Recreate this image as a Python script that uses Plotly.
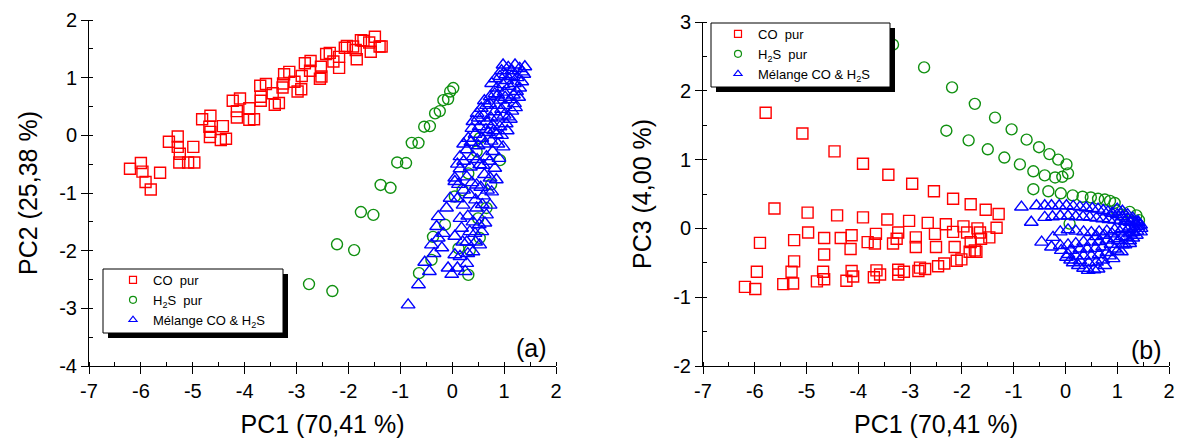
import plotly.graph_objects as go

# ---------------- Panel (a): PC1 vs PC2 ----------------
a_co_pc1 = [-6.21, -6.00, -5.97, -5.91, -5.81, -5.63, -5.46, -5.29, -5.29, -5.25, -5.26, -5.09, -4.97, -4.99,
            -4.82, -4.66, -4.68, -4.66, -4.67, -4.46, -4.36, -4.42, -4.23, -4.09, -4.15, -4.15, -3.91, -3.91,
            -3.82, -3.70, -3.59, -3.69, -3.69, -3.46, -3.42, -3.34, -3.24, -3.14, -3.26, -3.27, -3.04, -2.90,
            -2.91, -2.98, -2.84, -2.73, -2.74, -2.53, -2.55, -2.52, -2.43, -2.36, -2.29, -2.18, -2.18, -2.03,
            -2.07, -1.91, -1.86, -1.84, -1.76, -1.71, -1.60, -1.57, -1.49, -1.36, -1.40]
a_co_pc2 = [-0.58, -0.48, -0.63, -0.81, -0.94, -0.65, -0.11, -0.02, -0.20, -0.32, -0.47, -0.47, -0.47, -0.20,
            0.28, 0.34, 0.15, 0.06, -0.03, -0.08, -0.06, 0.16, 0.60, 0.64, 0.42, 0.31, 0.47, 0.27,
            0.28, 0.86, 0.89, 0.67, 0.60, 0.73, 0.53, 0.56, 1.06, 1.10, 0.90, 0.83, 0.93, 1.03,
            0.80, 0.76, 1.25, 1.29, 1.12, 1.19, 0.98, 1.02, 1.41, 1.43, 1.28, 1.36, 1.17, 1.55,
            1.52, 1.54, 1.48, 1.32, 1.65, 1.64, 1.61, 1.45, 1.71, 1.54, 1.54]

a_h2s_pc1 = [-2.76, -2.31, -2.22, -1.89, -1.76, -1.52, -1.38, -1.19, -1.06, -0.89, -0.78, -0.65, -0.54, -0.43,
             -0.33, -0.24, -0.17, -0.08, -0.04, 0.02,
             -0.64, -0.40, -0.37, -0.14, 0.05, 0.31, 0.47, 0.53, 0.31, 0.12, 0.34, 0.53, 0.50, 0.66, 0.92,
             0.75, 0.20]
a_h2s_pc2 = [-2.58, -2.70, -1.89, -1.99, -1.33, -1.38, -0.86, -0.91, -0.47, -0.48, -0.13, -0.13, 0.15, 0.16,
             0.38, 0.42, 0.61, 0.63, 0.76, 0.82,
             -2.39, -2.16, -1.76, -1.55, -1.06, -0.66, -0.28, -0.05, -2.42, -1.96, -1.99, -1.78, -1.44, -1.26,
             -0.43, -0.85, -0.95]

a_mix_pc1 = [0.98, 1.08, 1.21, 1.30, 1.40, 1.15, 1.35, 0.95,
             0.92, 1.03, 1.14, 1.25, 1.34, 1.38, 1.05, 1.20, 0.83,
             0.76, 0.86, 0.98, 1.10, 1.24, 1.30, 0.88, 1.00, 1.18, 1.28,
             0.73, 0.82, 0.92, 1.02, 1.12, 1.20, 0.62, 0.72, 0.85, 1.02, 1.22,
             0.56, 0.66, 0.82, 0.95, 1.08, 1.15, 0.48, 0.60, 0.75, 0.88, 1.00, 1.12,
             0.40, 0.50, 0.66, 0.78, 0.92, 1.04, 0.38, 0.52, 0.65, 0.80, 1.06,
             0.31, 0.44, 0.57, 0.70, 0.85, 0.98, 0.95, 0.22, 0.36, 0.50, 0.62, 0.75, 0.88,
             0.15, 0.28, 0.40, 0.53, 0.66, 0.78, 0.82, 0.90, 0.10, 0.22, 0.35, 0.48, 0.60, 0.72,
             0.05, 0.28, 0.47, 0.62, 0.73, 0.85, 0.15, 0.05, 0.12, 0.22, 0.38, 0.55, 0.68,
             -0.04, 0.21, 0.34, 0.47, 0.73, 0.76, 0.60, 0.10, 0.45, 0.58,
             -0.11, -0.27, 0.15, 0.30, 0.66, 0.63, 0.40, 0.52,
             -0.30, -0.17, 0.18, 0.34, 0.44, 0.57, 0.05,
             -0.27, -0.40, 0.05, 0.40, 0.53, 0.20, 0.28, 0.45, -0.20,
             -0.53, -0.44, -0.08, -0.01, 0.28, 0.25, 0.15, 0.30, -0.35, 0.10,
             -0.65, -0.85]
a_mix_pc2 = [1.22, 1.18, 1.22, 1.16, 1.19, 1.12, 1.10, 1.12,
             1.02, 1.05, 1.02, 1.00, 0.93, 1.06, 0.95, 0.90, 0.98,
             0.90, 0.82, 0.88, 0.85, 0.76, 0.82, 0.70, 0.75, 0.70, 0.66,
             0.67, 0.72, 0.61, 0.66, 0.62, 0.55, 0.60, 0.55, 0.52, 0.52, 0.48,
             0.47, 0.52, 0.41, 0.45, 0.32, 0.42, 0.38, 0.35, 0.30, 0.32, 0.35, 0.28,
             0.24, 0.30, 0.24, 0.18, 0.15, 0.20, 0.12, 0.15, 0.10, 0.08, 0.08,
             -0.05, 0.02, -0.05, 0.05, 0.01, -0.20, 0.00, -0.15, -0.12, -0.18, -0.15, -0.10, -0.15,
             -0.37, -0.25, -0.37, -0.51, -0.37, -0.28, -0.57, -0.40, -0.50, -0.45, -0.55, -0.42, -0.52, -0.45,
             -0.74, -0.72, -0.86, -0.68, -0.74, -0.77, -0.58, -0.80, -0.85, -0.95, -0.82, -0.90, -0.95,
             -1.09, -1.21, -1.03, -1.26, -1.21, -0.98, -1.05, -1.10, -1.12, -1.20,
             -1.26, -1.41, -1.44, -1.40, -1.38, -1.52, -1.50, -1.55,
             -1.58, -1.70, -1.61, -1.67, -1.70, -1.67, -1.75,
             -1.78, -1.90, -2.07, -2.02, -1.90, -1.85, -1.85, -1.85, -1.95,
             -2.20, -2.36, -2.30, -2.41, -2.22, -2.36, -2.10, -2.05, -2.05, -2.30,
             -2.59, -2.94]

# ---------------- Panel (b): PC1 vs PC3 ----------------
b_co_pc1 = [-5.79, -5.08, -4.46, -3.91, -3.42, -2.96, -2.54, -2.17, -1.83, -1.54, -1.29,
            -5.62, -4.98, -4.41, -3.91, -3.44, -3.02, -2.66, -2.31, -1.97, -1.70, -1.33,
            -5.90, -4.97, -5.24, -4.66, -4.34, -4.13, -4.15, -3.82, -3.66, -3.68, -3.33, -3.26, -3.23,
            -2.89, -2.89, -2.52, -2.50, -2.17, -2.14, -1.90, -1.83, -1.85, -1.65, -1.63, -1.47, -1.72, -4.66,
            -6.19, -5.99, -5.96, -5.45, -5.26, -5.24, -5.29, -4.80, -4.66, -4.68, -4.23, -4.10, -4.13,
            -3.70, -3.58, -3.65, -3.23, -3.12, -3.23, -2.84, -2.71, -2.81, -2.46, -2.34, -2.10, -2.01, -1.75]
b_co_pc3 = [1.68, 1.38, 1.12, 0.94, 0.78, 0.65, 0.54, 0.43, 0.35, 0.27, 0.21,
            0.29, 0.23, 0.19, 0.16, 0.13, 0.11, 0.08, 0.06, 0.03, 0.00, 0.01,
            -0.21, -0.06, -0.17, -0.14, -0.14, -0.10, -0.30, -0.20, -0.08, -0.22, -0.22, -0.15, -0.06,
            -0.13, -0.27, -0.08, -0.27, -0.05, -0.27, -0.06, -0.20, -0.34, -0.06, -0.15, -0.13, -0.34, -0.38,
            -0.85, -0.88, -0.63, -0.81, -0.80, -0.48, -0.63, -0.77, -0.74, -0.63, -0.76, -0.70, -0.62,
            -0.71, -0.67, -0.61, -0.67, -0.63, -0.60, -0.62, -0.59, -0.57, -0.55, -0.51, -0.47, -0.45, -0.32]

b_h2s_pc1 = [-3.33, -2.73, -2.19, -1.75, -1.36, -1.04, -0.75, -0.51, -0.31, -0.14, 0.02, 0.05,
             -2.30, -1.87, -1.50, -1.18, -0.88, -0.62, -0.40, -0.20, -0.06,
             -0.62, -0.33, -0.09, 0.14, 0.33, 0.49, 0.63, 0.76, 0.86, 0.95,
             0.99, 1.10, 1.24, 1.37, 1.42, 0.08]
b_h2s_pc3 = [2.67, 2.34, 2.05, 1.81, 1.61, 1.44, 1.29, 1.18, 1.08, 1.00, 0.93, 0.80,
             1.42, 1.28, 1.15, 1.03, 0.93, 0.83, 0.77, 0.74, 0.75,
             0.57, 0.54, 0.51, 0.48, 0.46, 0.45, 0.43, 0.42, 0.40, 0.37,
             0.26, 0.20, 0.24, 0.19, 0.12, 0.07]

b_mix_pc1 = [-0.85, -0.56, -0.40, -0.27, -0.12, 0.02, 0.15, 0.28, 0.40, 0.52, 0.63, 0.73, 0.82,
             -0.66, -0.40, -0.25, -0.10, 0.05, 0.20, 0.34, 0.47, 0.60, 0.72, 0.84, 0.95, 1.05, 1.15, 1.25,
             1.35, 1.45,
             0.90, 1.00, 1.10, 1.20, 1.30, 1.40, 1.00, 1.10, 1.20, 1.30, 1.40, 1.46, 1.45,
             -0.46, -0.24, -0.10, 0.05, 0.20, 0.35, 0.50, 0.65, 0.80, 0.95, 1.10, 1.25, 1.40,
             0.60, 0.75, 0.90, 1.05, 1.20, 1.32,
             -0.27, -0.10, 0.05, 0.20, 0.35, 0.50, 0.65, 0.80, 0.95, 1.10, 1.25, 1.38,
             0.10, 0.28, 0.42, 0.58, 0.72, 0.88, 1.02, 1.17, 1.30,
             -0.08, 0.05, 0.20, 0.35, 0.50, 0.65, 0.80, 0.95, 1.10, 1.24, 1.37,
             0.10, 0.28, 0.45, 0.60, 0.72, 0.85, 1.00, 1.15, 1.30,
             0.02, 0.15, 0.25, 0.35, 0.44, 0.55, 0.63, 0.76, 0.92, 1.08, 1.24]
b_mix_pc3 = [0.31, 0.33, 0.33, 0.33, 0.33, 0.33, 0.32, 0.31, 0.30, 0.29, 0.28, 0.26, 0.24,
             0.09, 0.16, 0.17, 0.18, 0.18, 0.17, 0.17, 0.16, 0.15, 0.14, 0.13, 0.12, 0.11, 0.10, 0.09,
             0.08, 0.05,
             0.22, 0.20, 0.17, 0.14, 0.11, 0.08, 0.28, 0.25, 0.20, 0.15, 0.10, 0.00, -0.05,
             -0.20, -0.13, -0.05, -0.02, -0.04, -0.05, -0.06, -0.05, -0.04, -0.02, 0.00, 0.02, 0.03,
             -0.12, -0.10, -0.08, -0.05, -0.02, 0.00,
             -0.27, -0.25, -0.24, -0.22, -0.20, -0.20, -0.19, -0.17, -0.15, -0.12, -0.08, -0.04,
             -0.32, -0.30, -0.30, -0.29, -0.27, -0.23, -0.18, -0.13, -0.06,
             -0.32, -0.38, -0.40, -0.40, -0.40, -0.38, -0.35, -0.30, -0.24, -0.18, -0.10,
             -0.46, -0.47, -0.50, -0.49, -0.46, -0.40, -0.33, -0.24, -0.14,
             -0.42, -0.50, -0.54, -0.58, -0.61, -0.60, -0.59, -0.54, -0.44, -0.34, -0.22]

series_names = ["CO  pur", "H<sub>2</sub>S  pur", "Mélange CO &amp; H<sub>2</sub>S"]
series_colors = ["#FF0000", "#109010", "#0000FF"]
series_symbols = ["square-open", "circle-open", "triangle-up-open"]
series_sizes = [11, 11, 12]

x_tickvals = [-7, -6, -5, -4, -3, -2, -1, 0, 1, 2]
x_ticktext = ["-7", "-6", "-5", "-4", "-3", "-2", "-1", "0", "1", "2"]
ya_tickvals = [-4, -3, -2, -1, 0, 1, 2]
ya_ticktext = ["-4", "-3", "-2", "-1", "0", "1", "2"]
yb_tickvals = [-2, -1, 0, 1, 2, 3]
yb_ticktext = ["-2", "-1", "0", "1", "2", "3"]

W, H = 1183, 440
FONT = "Arial, 'Liberation Sans', sans-serif"

fig = go.Figure()

panel_a = [(a_co_pc1, a_co_pc2), (a_h2s_pc1, a_h2s_pc2), (a_mix_pc1, a_mix_pc2)]
panel_b = [(b_co_pc1, b_co_pc3), (b_h2s_pc1, b_h2s_pc3), (b_mix_pc1, b_mix_pc3)]

for panel, xa, ya in ((panel_a, "x", "y"), (panel_b, "x2", "y2")):
    for (xs, ys), name, col, sym, sz in zip(panel, series_names, series_colors, series_symbols, series_sizes):
        fig.add_trace(go.Scatter(x=xs, y=ys, mode="markers", name=name, xaxis=xa, yaxis=ya,
                                 showlegend=False,
                                 marker=dict(symbol=sym, size=sz, color=col,
                                             line=dict(color=col, width=1.4))))

# legend entries (small symbols as in the original legends)
for leg, xa, ya in (("legend", "x", "y"), ("legend2", "x2", "y2")):
    for name, col, sym in zip(series_names, series_colors, series_symbols):
        fig.add_trace(go.Scatter(x=[None], y=[None], mode="markers", name=name, xaxis=xa, yaxis=ya,
                                 legend=leg, showlegend=True,
                                 marker=dict(symbol=sym, size=7, color=col, line=dict(color=col, width=1.2))))

def px(x):
    return x / W

def py(y):
    return 1 - y / H

axis_common = dict(
    showline=True, linecolor="black", linewidth=1, mirror=False,
    showgrid=False, zeroline=False,
    ticks="outside", ticklen=7, tickwidth=1, tickcolor="black",
    tickfont=dict(family=FONT, size=20, color="black"),
    minor=dict(ticks="inside", ticklen=4, tickwidth=1, tickcolor="black", dtick=0.5),
    automargin=False, tickmode="array",
)

xa_dom = [px(89), px(556)]
xb_dom = [px(703), px(1169)]
ya_dom = [py(366), py(20)]
yb_dom = [py(366), py(22)]

title_font = dict(family=FONT, size=25, color="black")

fig.update_layout(
    width=W, height=H,
    margin=dict(l=0, r=0, t=0, b=0),
    paper_bgcolor="white", plot_bgcolor="white",
    font=dict(family=FONT, color="black"),
    xaxis=dict(axis_common, domain=xa_dom, range=[-7, 2], tickvals=x_tickvals, ticktext=x_ticktext,
               anchor="y", title=dict(text="PC1 (70,41 %)", font=title_font, standoff=14)),
    yaxis=dict(axis_common, domain=ya_dom, range=[-4, 2], tickvals=ya_tickvals, ticktext=ya_ticktext,
               anchor="x", title=dict(text="PC2 (25,38 %)", font=title_font, standoff=14)),
    xaxis2=dict(axis_common, domain=xb_dom, range=[-7, 2], tickvals=x_tickvals, ticktext=x_ticktext,
                anchor="y2", title=dict(text="PC1 (70,41 %)", font=title_font, standoff=14)),
    yaxis2=dict(axis_common, domain=yb_dom, range=[-2, 3], tickvals=yb_tickvals, ticktext=yb_ticktext,
                anchor="x2", title=dict(text="PC3 (4,00 %)", font=title_font, standoff=14)),
    legend=dict(x=px(113), y=py(265), xanchor="left", yanchor="top",
                bgcolor="rgba(0,0,0,0)", borderwidth=0,
                font=dict(family=FONT, size=13, color="black"), tracegroupgap=0, itemwidth=30),
    legend2=dict(x=px(718), y=py(19), xanchor="left", yanchor="top",
                 bgcolor="rgba(0,0,0,0)", borderwidth=0,
                 font=dict(family=FONT, size=13, color="black"), tracegroupgap=0, itemwidth=30),
    showlegend=True,
)

shapes = []
for (x0, y0, x1, y1) in ((103, 269, 283, 333), (711, 23, 890, 87)):
    shapes.append(dict(type="rect", xref="paper", yref="paper", layer="above",
                       x0=px(x0 + 5), x1=px(x1 + 5), y0=py(y1 + 5), y1=py(y0 + 5),
                       fillcolor="black", line=dict(width=0)))
    shapes.append(dict(type="rect", xref="paper", yref="paper", layer="above",
                       x0=px(x0), x1=px(x1), y0=py(y1), y1=py(y0),
                       fillcolor="white", line=dict(color="black", width=1)))
fig.update_layout(shapes=shapes)

fig.add_annotation(text="(a)", xref="paper", yref="paper", x=px(549), y=py(348),
                   xanchor="right", yanchor="middle", showarrow=False,
                   font=dict(family=FONT, size=25, color="black"))
fig.add_annotation(text="(b)", xref="paper", yref="paper", x=px(1164), y=py(350),
                   xanchor="right", yanchor="middle", showarrow=False,
                   font=dict(family=FONT, size=25, color="black"))

fig.write_html("out.html", config={"displayModeBar": False},
               post_script="document.body.style.margin='0';document.body.style.padding='0';")
